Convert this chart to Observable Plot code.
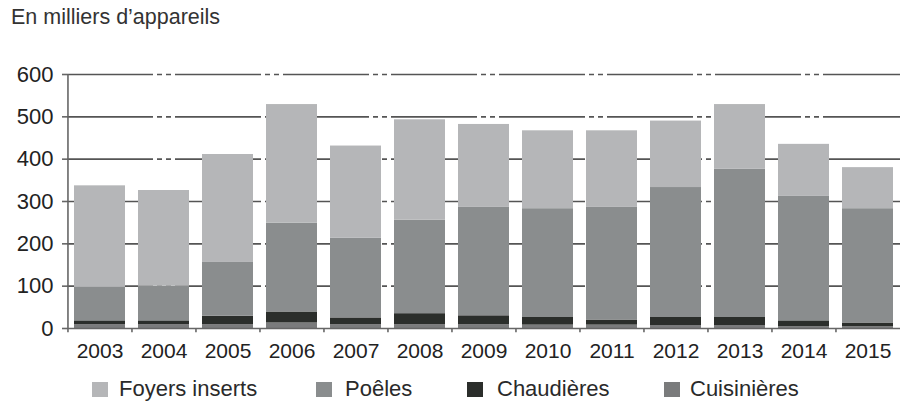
<!DOCTYPE html>
<html>
<head>
<meta charset="utf-8">
<script src="https://cdn.jsdelivr.net/npm/d3@7"></script>
<script src="https://cdn.jsdelivr.net/npm/@observablehq/plot@0.6"></script>
<style>
  html, body { margin: 0; padding: 0; background: #fff; }
  #wrap { width: 901px; height: 403px; position: relative; overflow: hidden; font-family: "Liberation Sans", Arial, sans-serif; }
  #title { position: absolute; left: 11px; top: 7px; font-size: 21.5px; line-height: 1; color: #333; white-space: nowrap; }
  #chart { position: absolute; left: 0; top: 50px; }
  .sw { position: absolute; top: 382px; width: 16px; height: 15px; }
  .lab { position: absolute; top: 378px; font-size: 22px; line-height: 1; color: #2a2a2a; white-space: nowrap; }
</style>
</head>
<body>
<div id="wrap">
  <div id="chart"></div>
  <div id="title">En milliers d’appareils</div>
</div>
<script>
const years = ["2003","2004","2005","2006","2007","2008","2009","2010","2011","2012","2013","2014","2015"];
const cuisinieres = [9, 9, 9, 13, 9, 9, 9, 8, 8, 7, 7, 4, 4];
const chaudieres = [9, 9, 20, 26, 16, 26, 21, 18, 12, 19, 19, 14, 9];
const poeles = [79, 82, 127, 210, 188, 221, 256, 257, 266, 307, 350, 294, 270];
const foyers = [240, 226, 255, 280, 218, 237, 196, 184, 181, 157, 153, 123, 97];
const seriesNames = ["Foyers inserts", "Poêles", "Chaudières", "Cuisinières"];
const seriesColors = ["#b5b6b8", "#8a8d8e", "#2b2e2b", "#7a7b7c"];
const yTicks = [0, 100, 200, 300, 400, 500, 600];

// stack bottom-to-top: Cuisinières, Chaudières, Poêles, Foyers inserts
const stackOrder = [
  ["Cuisinières", cuisinieres],
  ["Chaudières", chaudieres],
  ["Poêles", poeles],
  ["Foyers inserts", foyers]
];
const data = [];
years.forEach((y, i) => {
  stackOrder.forEach(([name, arr]) => data.push({year: y, serie: name, value: arr[i]}));
});

const W = 901, ML = 67, MR = 1;
const step = (W - ML - MR) / years.length;

const chart = Plot.plot({
  width: W,
  height: 322,
  marginTop: 24,
  marginBottom: 44,
  marginLeft: ML,
  marginRight: MR,
  style: {fontFamily: "Liberation Sans, Arial, sans-serif", background: "transparent", color: "#222", overflow: "visible"},
  x: {domain: years, paddingInner: 0.2, paddingOuter: 0.1, label: null},
  y: {domain: [0, 600], label: null},
  color: {domain: seriesNames, range: seriesColors},
  marks: [
    Plot.ruleY(yTicks.filter(d => d > 0), {stroke: "#555", strokeWidth: 1.6, strokeDasharray: "86,4,5,4,5,4"}),
    Plot.barY(data, Plot.stackY({x: "year", y: "value", fill: "serie", order: null})),
    Plot.ruleY([0], {stroke: "#666", strokeWidth: 1.6}),
    Plot.ruleX([years[0]], {y1: 0, y2: 600, dx: -step / 2, stroke: "#666", strokeWidth: 1.6}),
    Plot.ruleX(years, {y1: 0, y2: -10, dx: -step / 2, stroke: "#666", strokeWidth: 1.6}),
    Plot.axisY({ticks: yTicks, tickSize: 5, tickPadding: 9, fontSize: 22, stroke: "#666", strokeWidth: 1.6, fill: "#222"}),
    Plot.axisX({tickSize: 0, tickPadding: 15, fontSize: 21, fill: "#222"})
  ]
});
document.getElementById("chart").appendChild(chart);

// legend (below the plot)
const swatchX = [92, 316, 467, 664];
const labelX = [119, 345, 497, 690];
const wrap = document.getElementById("wrap");
seriesNames.forEach((name, i) => {
  const sw = document.createElement("div");
  sw.className = "sw";
  sw.style.left = swatchX[i] + "px";
  sw.style.background = seriesColors[i];
  const lab = document.createElement("div");
  lab.className = "lab";
  lab.style.left = labelX[i] + "px";
  lab.textContent = name;
  wrap.appendChild(sw);
  wrap.appendChild(lab);
});
</script>
</body>
</html>
